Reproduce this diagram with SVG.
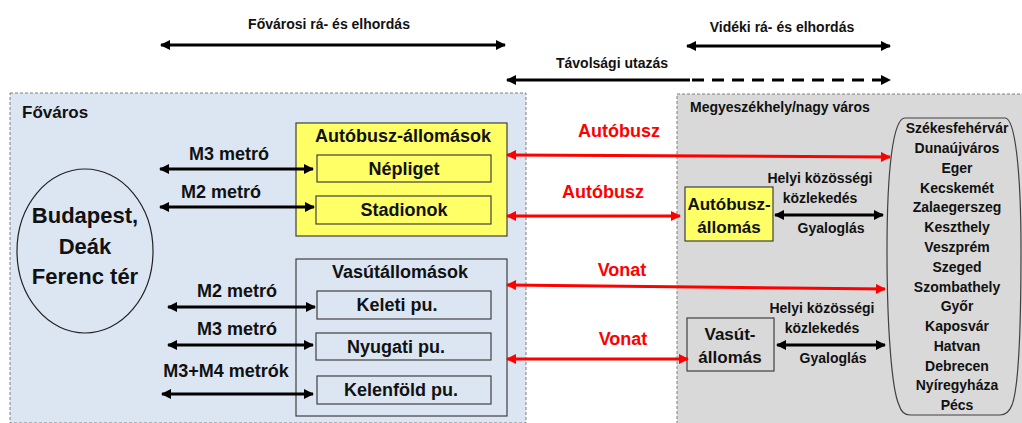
<svg xmlns="http://www.w3.org/2000/svg" width="1022" height="423" viewBox="0 0 1022 423">
<style>
text{font-family:"Liberation Sans",Arial,sans-serif;font-weight:bold;fill:#111;}
.c{text-anchor:middle;}
.t14{font-size:14px;}
.t17{font-size:17px;}
.t18{font-size:18px;}
.red{fill:#ff0000;font-size:18px;}
.area{stroke:#7f7f7f;stroke-width:1;stroke-dasharray:3 2;}
.box{stroke:#404040;stroke-width:1.2;}
.blk{stroke:#000;stroke-width:3;fill:none;marker-start:url(#ab);marker-end:url(#ab);}
.rd{stroke:#ff0000;stroke-width:3;fill:none;marker-start:url(#ar);marker-end:url(#ar);}
</style>
<defs>
<marker id="ab" viewBox="0 0 10 10" refX="9" refY="5" markerWidth="12" markerHeight="10" markerUnits="userSpaceOnUse" orient="auto-start-reverse"><path d="M0,0 L10,5 L0,10 Z" fill="#000"/></marker>
<marker id="ar" viewBox="0 0 10 10" refX="9" refY="5" markerWidth="12" markerHeight="10" markerUnits="userSpaceOnUse" orient="auto-start-reverse"><path d="M0,0 L10,5 L0,10 Z" fill="#ff0000"/></marker>
</defs>
<rect width="1022" height="423" fill="#ffffff"/>

<g id="fovaros">
<rect class="area" x="10" y="93" width="516" height="330" fill="#dce6f2"/>
<text class="t17" x="22" y="118">Főváros</text>
</g>
<g id="megye">
<rect class="area" x="677" y="94" width="360" height="330" fill="#d9d9d9"/>
<text class="t14" x="690" y="112">Megyeszékhely/nagy város</text>
</g>

<g id="headers">
<text class="t14 c" x="329" y="29">Fővárosi rá- és elhordás</text>
<text class="t14 c" x="782" y="32">Vidéki rá- és elhordás</text>
<text class="t14 c" x="612" y="68">Távolsági utazás</text>
</g>

<g id="budapest">
<ellipse cx="85" cy="251" rx="68" ry="82" fill="none" stroke="#222" stroke-width="1.2"/>
<text class="c" style="font-size:22px" x="85" y="223">Budapest,</text>
<text class="c" style="font-size:22px" x="85" y="254">Deák</text>
<text class="c" style="font-size:22px" x="85" y="284">Ferenc tér</text>
</g>

<g id="autobusz-allomasok">
<rect class="box" x="296" y="123" width="211" height="113" fill="#ffff66"/>
<text class="t18 c" x="403" y="142">Autóbusz-állomások</text>
</g>
<g id="nepliget">
<rect class="box" x="317" y="155" width="174" height="27" fill="#ffff66"/>
<text class="t18 c" x="404" y="175">Népliget</text>
</g>
<g id="stadionok">
<rect class="box" x="316" y="196" width="175" height="28" fill="#ffff66"/>
<text class="t18 c" x="404" y="216">Stadionok</text>
</g>

<g id="vasutallomasok">
<rect class="box" x="296" y="259" width="211" height="157" fill="#dce6f2"/>
<text class="t18 c" x="400" y="278">Vasútállomások</text>
</g>
<g id="keleti">
<rect class="box" x="317" y="291" width="174" height="28" fill="#dce6f2"/>
<text class="t18 c" x="397" y="311">Keleti pu.</text>
</g>
<g id="nyugati">
<rect class="box" x="316" y="333" width="175" height="27" fill="#dce6f2"/>
<text class="t18 c" x="396" y="353">Nyugati pu.</text>
</g>
<g id="kelenfold">
<rect class="box" x="317" y="376" width="174" height="28" fill="#dce6f2"/>
<text class="t18 c" x="401" y="396">Kelenföld pu.</text>
</g>

<g id="autobusz-allomas">
<rect class="box" x="685" y="187" width="88" height="54" fill="#ffff66"/>
<text class="t17 c" x="729" y="210">Autóbusz-</text>
<text class="t17 c" x="729" y="233">állomás</text>
</g>
<g id="vasut-allomas">
<rect class="box" x="687" y="318" width="87" height="53" fill="#d9d9d9"/>
<text class="t17 c" x="730" y="340">Vasút-</text>
<text class="t17 c" x="730" y="363">állomás</text>
</g>

<g id="varosok">
<path d="M905,118 L1005,118 C1015,118 1021,170 1021,250 C1021,330 1018,390 1012,405 Q1008,415 1000,415 L910,415 Q902,415 899,405 C892,390 887,330 887,250 C887,170 893,118 905,118 Z" fill="#d9d9d9" stroke="#404040" stroke-width="1.2"/>
<g class="t14">
<text class="c" x="957" y="133">Székesfehérvár</text>
<text class="c" x="957" y="153">Dunaújváros</text>
<text class="c" x="957" y="173">Eger</text>
<text class="c" x="957" y="193">Kecskemét</text>
<text class="c" x="957" y="212">Zalaegerszeg</text>
<text class="c" x="957" y="232">Keszthely</text>
<text class="c" x="957" y="252">Veszprém</text>
<text class="c" x="957" y="272">Szeged</text>
<text class="c" x="957" y="292">Szombathely</text>
<text class="c" x="957" y="311">Győr</text>
<text class="c" x="957" y="331">Kaposvár</text>
<text class="c" x="957" y="351">Hatvan</text>
<text class="c" x="957" y="371">Debrecen</text>
<text class="c" x="957" y="390">Nyíregyháza</text>
<text class="c" x="957" y="410">Pécs</text>
</g>
</g>

<g id="connectors">
<line class="blk" x1="161" y1="45" x2="505" y2="45"/>
<line class="blk" x1="687" y1="46" x2="890" y2="46"/>
<line stroke="#000" stroke-width="3" x1="507" y1="80" x2="690" y2="80" marker-start="url(#ab)"/>
<line stroke="#000" stroke-width="3" stroke-dasharray="12 8" x1="692" y1="80" x2="890" y2="80" marker-end="url(#ab)"/>

<line class="blk" x1="160" y1="169" x2="313" y2="169"/>
<line class="blk" x1="160" y1="207" x2="314" y2="207"/>
<line class="blk" x1="168" y1="307" x2="315" y2="307"/>
<line class="blk" x1="168" y1="345" x2="313" y2="345"/>
<line class="blk" x1="162" y1="394" x2="313" y2="394"/>
<text class="t18 c" x="229" y="160">M3 metró</text>
<text class="t18 c" x="221" y="198">M2 metró</text>
<text class="t18 c" x="237" y="297">M2 metró</text>
<text class="t18 c" x="237" y="335">M3 metró</text>
<text class="t18 c" x="226" y="377">M3+M4 metrók</text>

<line class="rd" x1="507" y1="155" x2="890" y2="157"/>
<line class="rd" x1="507" y1="216" x2="680" y2="216"/>
<line class="rd" x1="507" y1="285" x2="885" y2="289"/>
<line class="rd" x1="507" y1="359" x2="688" y2="359"/>
<text class="red c" x="619" y="137">Autóbusz</text>
<text class="red c" x="603" y="198">Autóbusz</text>
<text class="red c" x="622" y="276">Vonat</text>
<text class="red c" x="623" y="345">Vonat</text>

<line class="blk" x1="775" y1="215" x2="883" y2="215"/>
<line class="blk" x1="777" y1="345" x2="885" y2="345"/>
<text class="t14 c" x="820" y="183">Helyi közösségi</text>
<text class="t14 c" x="820" y="203">közlekedés</text>
<text class="t14 c" x="831" y="233">Gyaloglás</text>
<text class="t14 c" x="822" y="313">Helyi közösségi</text>
<text class="t14 c" x="822" y="333">közlekedés</text>
<text class="t14 c" x="833" y="363">Gyaloglás</text>
</g>
</svg>
